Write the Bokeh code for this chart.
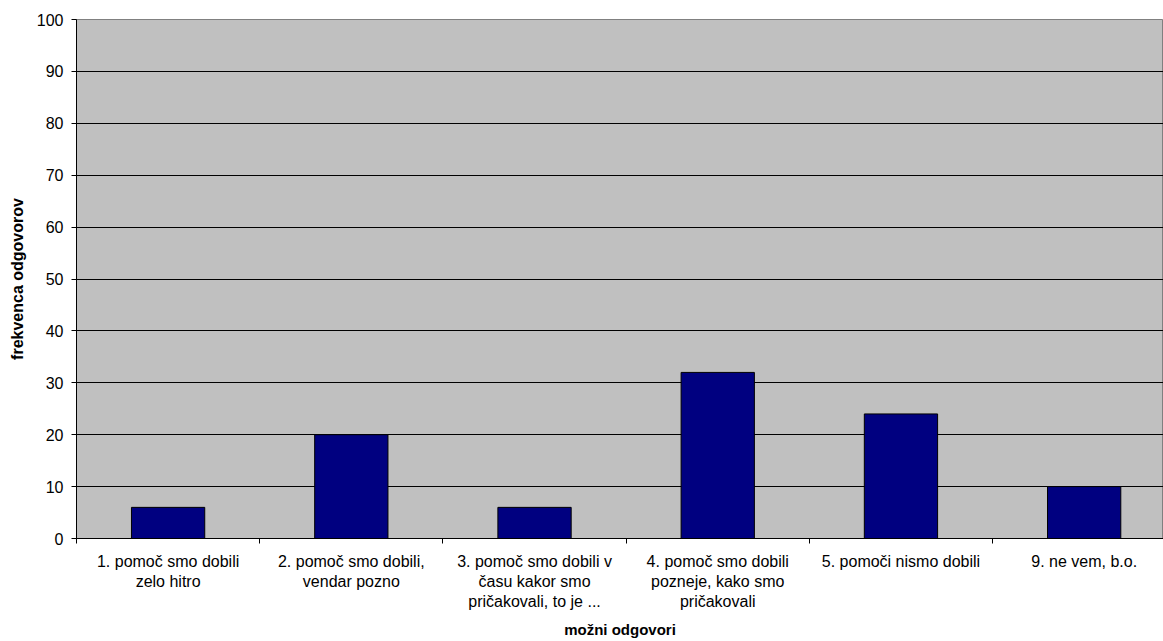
from bokeh.plotting import figure
from bokeh.models import FixedTicker, Range1d, ColumnDataSource
from bokeh.embed import file_html
from bokeh.resources import INLINE

categories = [
    "1. pomoč smo dobili\nzelo hitro",
    "2. pomoč smo dobili,\nvendar pozno",
    "3. pomoč smo dobili v\nčasu kakor smo\npričakovali, to je ...",
    "4. pomoč smo dobili\npozneje, kako smo\npričakovali",
    "5. pomoči nismo dobili",
    "9. ne vem, b.o.",
]
values = [6, 20, 6, 32, 24, 10]
y_ticks = [0, 10, 20, 30, 40, 50, 60, 70, 80, 90, 100]

FONT = "Liberation Sans"

centers = [i + 0.5 for i in range(len(categories))]
bounds = list(range(len(categories) + 1))

src = ColumnDataSource(dict(x=centers, top=values))

p = figure(width=1163, height=641, output_backend="svg", toolbar_location=None,
           x_range=Range1d(0, 5.933), y_range=Range1d(0, 100),
           min_border_left=76, min_border_right=0, min_border_top=19, min_border_bottom=101)
p.background_fill_color = "#C0C0C0"
p.border_fill_color = "white"
p.outline_line_color = "#808080"
p.outline_line_width = 1

p.vbar(x="x", top="top", width=0.40, bottom=0, source=src,
       fill_color="#000080", line_color="black", line_width=1)

# x axis
p.xaxis.ticker = FixedTicker(ticks=centers, minor_ticks=bounds)
p.xaxis.major_label_overrides = {c: lab for c, lab in zip(centers, categories)}
p.xaxis.major_tick_line_color = None
p.xaxis.minor_tick_line_color = "black"
p.xaxis.minor_tick_out = 5
p.xaxis.minor_tick_in = 0
p.xaxis.major_tick_out = 5
p.xaxis.major_label_standoff = 9
p.xaxis.major_label_text_font = FONT
p.xaxis.major_label_text_font_size = "16px"
p.xaxis.major_label_text_color = "black"
p.xaxis.axis_label = "možni odgovori"
p.xaxis.axis_label_text_font = FONT
p.xaxis.axis_label_text_font_size = "15px"
p.xaxis.axis_label_text_font_style = "bold"
p.xaxis.axis_label_text_color = "black"
p.xaxis.axis_label_standoff = 8
p.xaxis.axis_line_color = "black"

# y axis
p.yaxis.ticker = FixedTicker(ticks=y_ticks)
p.yaxis.minor_tick_line_color = None
p.yaxis.major_tick_out = 5
p.yaxis.major_tick_in = 0
p.yaxis.major_tick_line_color = "black"
p.yaxis.major_label_standoff = 8
p.yaxis.major_label_text_font = FONT
p.yaxis.major_label_text_font_size = "16px"
p.yaxis.major_label_text_color = "black"
p.yaxis.axis_label = "frekvenca odgovorov"
p.yaxis.axis_label_text_font = FONT
p.yaxis.axis_label_text_font_size = "16px"
p.yaxis.axis_label_text_font_style = "bold"
p.yaxis.axis_label_text_color = "black"
p.yaxis.axis_label_standoff = 8
p.yaxis.axis_line_color = "black"

p.xgrid.grid_line_color = None
p.ygrid.ticker = FixedTicker(ticks=y_ticks[1:-1])
p.ygrid.grid_line_color = "black"
p.ygrid.grid_line_width = 1

open("out.html", "w").write(file_html(p, INLINE))
